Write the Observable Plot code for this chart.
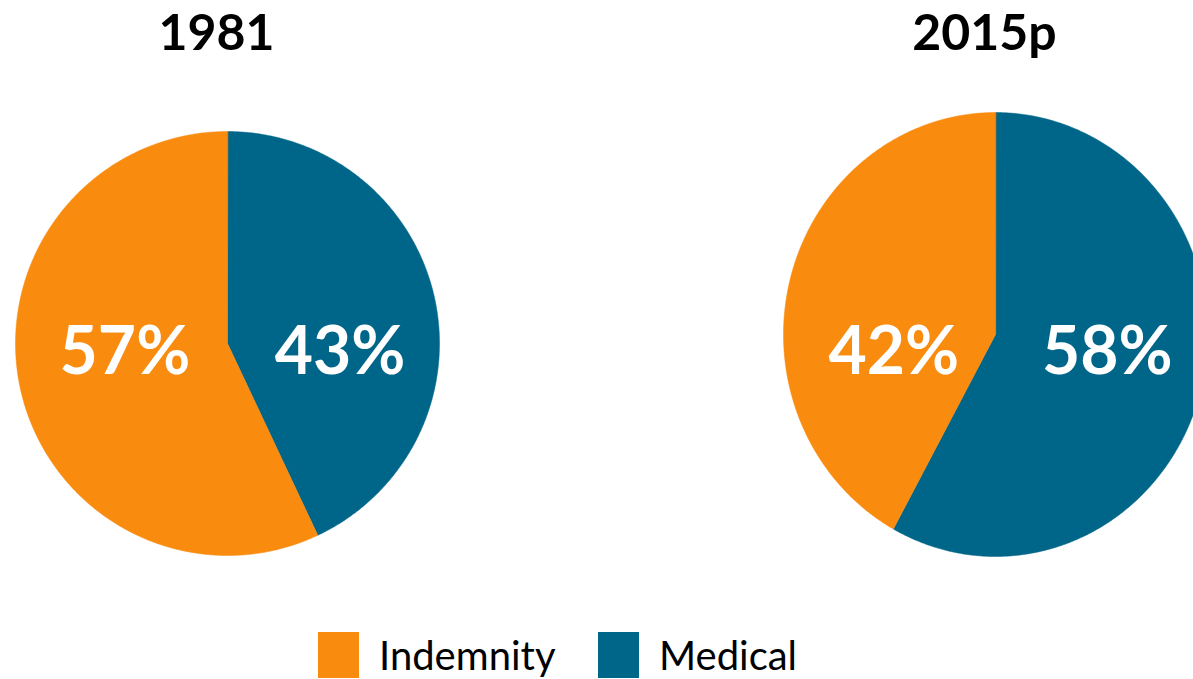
<!DOCTYPE html>
<html>
<head>
<meta charset="utf-8">
<script src="https://cdn.jsdelivr.net/npm/d3@7"></script>
<script src="https://cdn.jsdelivr.net/npm/@observablehq/plot@0.6"></script>
<style>
  html, body { margin: 0; padding: 0; background: #fff; }
  #chart svg { display: block; }
  .legend { height: 69px; position: relative; font-family: Lato, "Open Sans", sans-serif; font-size: 40px; color: #000; }
  .legend .item { position: absolute; top: 21px; display: flex; align-items: center; }
  .legend .sw { width: 41px; height: 46px; margin-right: 20px; }
</style>
</head>
<body>
<div id="chart"></div>
<div class="legend" id="legend"></div>
<script>
// ---- data ----
const years = ["1981", "2015p"];
const categories = ["Medical", "Indemnity"];          // drawing order, clockwise from 12 o'clock
const medical = [43, 58];
const indemnity = [57, 42];
const legendOrder = ["Indemnity", "Medical"];
const colors = {Indemnity: "#F98B0F", Medical: "#006689"};

// ---- layout ----
const W = 1193, H = 610;
const pies = [
  {cx: 227, cy: 343, rx: 212, ry: 212},
  {cx: 995, cy: 334, rx: 212, ry: 222}
];
const labelY = 352, titleY = 33;

const pieGen = d3.pie().sort(null).value(d => d.value).startAngle(0).endAngle(2 * Math.PI);
const polys = [], labels = [], titles = [];
years.forEach((yr, i) => {
  const p = pies[i];
  const vals = [{cat: "Medical", value: medical[i]}, {cat: "Indemnity", value: indemnity[i]}];
  pieGen(vals).forEach(a => {
    const id = yr + "-" + a.data.cat;
    polys.push({id, cat: a.data.cat, x: p.cx, y: p.cy});
    const n = Math.max(8, Math.ceil((a.endAngle - a.startAngle) / (Math.PI / 360)));
    for (let k = 0; k <= n; k++) {
      const t = a.startAngle + (a.endAngle - a.startAngle) * k / n;
      polys.push({id, cat: a.data.cat, x: p.cx + p.rx * Math.sin(t), y: p.cy - p.ry * Math.cos(t)});
    }
    const mid = (a.startAngle + a.endAngle) / 2;
    labels.push({x: p.cx + 5 + 0.52 * p.rx * Math.sin(mid), y: labelY, text: a.data.value + "%"});
  });
  titles.push({x: p.cx - 11, y: titleY, text: yr});
});

const chart = Plot.plot({
  width: W, height: H,
  margin: 0,
  x: {domain: [0, W], range: [0, W], axis: null},
  y: {domain: [0, H], range: [0, H], axis: null},
  color: {domain: legendOrder, range: legendOrder.map(c => colors[c])},
  style: {fontFamily: "Lato, 'Open Sans', sans-serif", background: "#fff"},
  marks: [
    Plot.line(polys, {x: "x", y: "y", z: "id", fill: "cat", stroke: "cat", strokeWidth: 0.5, curve: "linear-closed"}),
    Plot.text(labels, {x: "x", y: "y", text: "text", fill: "#fff", fontSize: 66, fontWeight: "bold", textAnchor: "middle", lineAnchor: "middle"}),
    Plot.text(titles, {x: "x", y: "y", text: "text", fill: "#000", fontSize: 50, fontWeight: "bold", textAnchor: "middle", lineAnchor: "middle"})
  ]
});
document.getElementById("chart").appendChild(chart);

// ---- legend ----
const leg = document.getElementById("legend");
const legendX = [318, 598];
legendOrder.forEach((c, i) => {
  const it = document.createElement("div");
  it.className = "item";
  it.style.left = legendX[i] + "px";
  const sw = document.createElement("div");
  sw.className = "sw";
  sw.style.background = colors[c];
  const tx = document.createElement("span");
  tx.textContent = c;
  it.appendChild(sw); it.appendChild(tx);
  leg.appendChild(it);
});
</script>
</body>
</html>
